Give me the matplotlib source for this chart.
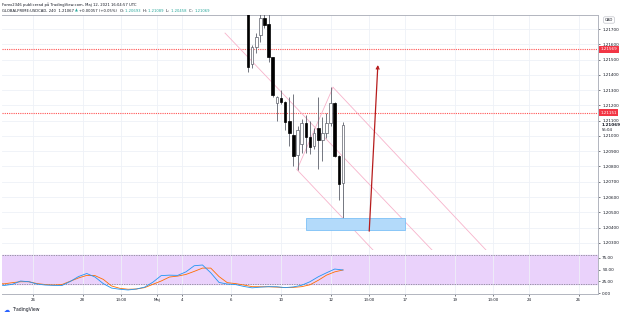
import matplotlib
matplotlib.use("Agg")
import matplotlib.pyplot as plt
import matplotlib.transforms as mtransforms
from matplotlib.patches import Rectangle

# 4H candles, GLOBALPRIME:USDCAD (first bar: May 6 16:00)
opens = [1.21850, 1.21470, 1.21584, 1.21661, 1.21772, 1.21733, 1.21516, 1.21213,
         1.21246, 1.21220, 1.21095, 1.21009, 1.20878, 1.20950, 1.21082, 1.20996,
         1.20937, 1.21055, 1.20976, 1.21016, 1.21082, 1.21213, 1.20871, 1.20693]
highs = [1.21880, 1.21595, 1.21674, 1.21810, 1.21815, 1.21800, 1.21520, 1.21259,
         1.21299, 1.21226, 1.21253, 1.21272, 1.21068, 1.21114, 1.21134, 1.21101,
         1.21055, 1.21253, 1.21121, 1.21147, 1.21318, 1.21222, 1.20875, 1.21089]
lows = [1.21419, 1.21443, 1.21542, 1.21614, 1.21707, 1.21483, 1.21253, 1.21101,
        1.21210, 1.21036, 1.20937, 1.20805, 1.20779, 1.20891, 1.20891, 1.20884,
        1.20917, 1.20786, 1.20838, 1.20989, 1.21068, 1.20864, 1.20582, 1.20458]
closes = [1.21452, 1.21582, 1.21649, 1.21772, 1.21726, 1.21516, 1.21266, 1.21253,
          1.21220, 1.21088, 1.21016, 1.20871, 1.21042, 1.21082, 1.20996, 1.20930,
          1.21022, 1.20976, 1.21016, 1.21082, 1.21213, 1.20871, 1.20687, 1.21069]
first_bar_day = 8 + 4 / 6   # trading-day index (Apr 26 = 0)

# stochastic, every 2nd bar, ending at last candle
stoch_k = [18.5, 16, 18.5, 25.5, 24, 19, 17, 16.4, 16, 24.5, 35, 41.5, 34, 20, 10.5,
           8, 6.5, 8.5, 12.5, 23, 37, 38, 37.5, 45, 58, 59.6, 43, 22.5, 19, 18, 14,
           11, 12.5, 13.5, 13.3, 11.5, 13, 16.5, 24, 34.5, 43, 51, 49]
stoch_d = [20.5, 19.5, 22, 24, 24, 20, 18, 17, 18, 25, 32, 37.5, 37, 29, 15, 10, 8,
           8.5, 11.5, 18.5, 25.5, 34, 36, 39.5, 46, 53, 53, 35, 22, 20, 17, 13.5,
           13.3, 13.3, 12.5, 11.5, 12, 13.5, 17.5, 27, 38, 45, 49]

tick_days = [0, 2, 3.54, 5, 6, 8, 10, 12, 13.54, 15, 17, 18.54, 20, 22]
tick_labels = ["26", "28", "13:00", "Maj", "4", "6", "10", "12", "13:00", "17", "19",
               "13:00", "24", "26"]

h_levels = [1.21569, 1.21151]
channel_lines = [((7.742, 1.216737), (16.089, 1.202526)),
                 ((12.097, 1.213184), (18.266, 1.202526)),
                 ((10.645, 1.207789), (13.710, 1.202526)),
                 ((10.645, 1.207789), (12.097, 1.213184))]
zone = (11.01, 15.0, 1.20384, 1.20463)
arrow_from = (13.55, 1.20358)
arrow_to = (13.91, 1.21483)

fig = plt.figure(figsize=(6.25, 3.17), dpi=100)
ax = fig.add_axes([2 / 625, 1 - 250 / 317, 596 / 625, 235 / 317])
ax2 = fig.add_axes([2 / 625, 1 - 294 / 317, 596 / 625, 44 / 317], sharex=ax)

grid_c = "#eef1f7"
frame_c = "#b2b5be"

# candles
for i in range(len(opens)):
    t = first_bar_day + i / 6
    o, h, l, c = opens[i], highs[i], lows[i], closes[i]
    bull = c >= o
    ax.vlines(t, l, h, color="#5d606b", lw=0.6, zorder=3)
    ax.bar(t, max(abs(c - o), 0.00002), bottom=min(o, c), width=0.105,
           color="white" if bull else "black", edgecolor="#5d606b" if bull else "black",
           lw=0.5, zorder=4)

for lvl in h_levels:
    ax.axhline(lvl, color="#ff5252", lw=0.8, ls=(0, (1, 1)), zorder=2)

for (x0, y0), (x1, y1) in channel_lines:
    ax.plot([x0, x1], [y0, y1], color="#f7b3cb", lw=0.6, zorder=2)

ax.add_patch(Rectangle((zone[0], zone[2]), zone[1] - zone[0], zone[3] - zone[2],
                       facecolor="#b3dafa", edgecolor="#7cc0f7", lw=0.6, zorder=5))
ax.annotate("", xy=arrow_to, xytext=arrow_from,
            arrowprops=dict(arrowstyle="->", color="#b71c1c", lw=0.9,
                            mutation_scale=5), zorder=6)

ax.set_xlim(-1.25, 22.78)
ax.set_ylim(1.20253, 1.21792)
price_ticks = [1.203 + 0.001 * k for k in range(15)]
ax.set_yticks(price_ticks)
ax.set_yticklabels([f"{p:.5f}" for p in price_ticks])
ax.yaxis.tick_right()
ax.tick_params(axis="y", labelsize=3.0, length=1.5, pad=1.5, colors="#131722",
               width=0.4)
ax.tick_params(axis="x", length=0, labelbottom=False)
ax.set_xticks(tick_days)
ax.grid(color=grid_c, lw=0.6, zorder=0)
ax.spines["left"].set_visible(False)
for s in ["top", "right", "bottom"]:
    ax.spines[s].set_color(frame_c)
    ax.spines[s].set_linewidth(0.7)

trans = mtransforms.blended_transform_factory(ax.transAxes, ax.transData)
for lvl in h_levels:
    ax.text(1.004, lvl, f"{lvl:.5f}", transform=trans, fontsize=3.0, color="white",
            va="center", ha="left", clip_on=False, zorder=10,
            bbox=dict(boxstyle="square,pad=0.35", fc="#f23645", ec="none"))
ax.text(1.006, 1.21069, "1.21069", transform=trans, fontsize=3.0, color="#131722",
        va="center", ha="left", clip_on=False, fontweight="bold")
ax.text(1.006, 1.21040, "55:04", transform=trans, fontsize=2.8, color="#131722",
        va="center", ha="left", clip_on=False)
fig.text(609 / 625, 1 - 20 / 317, "CAD", fontsize=2.8, color="#131722",
         ha="center", va="center",
         bbox=dict(boxstyle="round,pad=0.3", fc="white", ec="#b2b5be", lw=0.4))

# stochastic panel
stoch_t = [first_bar_day + 23 / 6 - (len(stoch_k) - 1 - k) / 3 for k in range(len(stoch_k))]
ax2.axhspan(20, 80, color="#ead2fb", zorder=1)
for v in (20, 80):
    ax2.axhline(v, color="#787b86", lw=0.5, ls=(0, (2, 1.5)), zorder=2)
ax2.plot(stoch_t, stoch_d, color="#ff6d00", lw=0.6, zorder=3)
ax2.plot(stoch_t, stoch_k, color="#2196f3", lw=0.6, zorder=4)
ax2.set_ylim(-2.1, 91.5)
ax2.set_yticks([0, 25, 50, 75])
ax2.set_yticklabels(["0.00", "25.00", "50.00", "75.00"])
ax2.yaxis.tick_right()
ax2.tick_params(axis="y", labelsize=3.0, length=1.5, pad=1.5, colors="#131722",
                width=0.4)
ax2.set_xticks(tick_days)
ax2.set_xticklabels(tick_labels)
ax2.tick_params(axis="x", labelsize=2.8, length=1.5, pad=1.5, colors="#131722",
                width=0.4)
ax2.grid(axis="x", color=grid_c, lw=0.6, zorder=0)
ax2.spines["left"].set_visible(False)
ax2.spines["top"].set_visible(False)
for s in ["right", "bottom"]:
    ax2.spines[s].set_color(frame_c)
    ax2.spines[s].set_linewidth(0.7)

# header
fig.text(2 / 625, 1 - 4.5 / 317,
         "Forex2346 publicerad på TradingView.com, Maj 12, 2021 16:04:57 UTC",
         fontsize=2.7, color="#131722", va="center", ha="left")
hdr = [("GLOBALPRIME:USDCAD, 240  1.21067 ", "#131722"), ("▲ ", "#26a69a"),
       ("+0.00057 (+0.05%)  ", "#131722"),
       ("O: ", "#131722"), ("1.20693  ", "#26a69a"),
       ("H: ", "#131722"), ("1.21089  ", "#26a69a"),
       ("L: ", "#131722"), ("1.20458  ", "#26a69a"),
       ("C: ", "#131722"), ("1.21069", "#26a69a")]
renderer = fig.canvas.get_renderer()
xp = 2
for txt, col in hdr:
    t = fig.text(xp / 625, 1 - 10.5 / 317, txt, fontsize=2.7, color=col,
                 va="center", ha="left")
    xp += t.get_window_extent(renderer).width

fig.text(4 / 625, 1 - 310 / 317, "☁", fontsize=4.5, color="#2962ff", va="center")
fig.text(12 / 625, 1 - 310 / 317, "TradingView", fontsize=3.3, color="#131722",
         va="center")

fig.savefig("out.png", dpi=100)
